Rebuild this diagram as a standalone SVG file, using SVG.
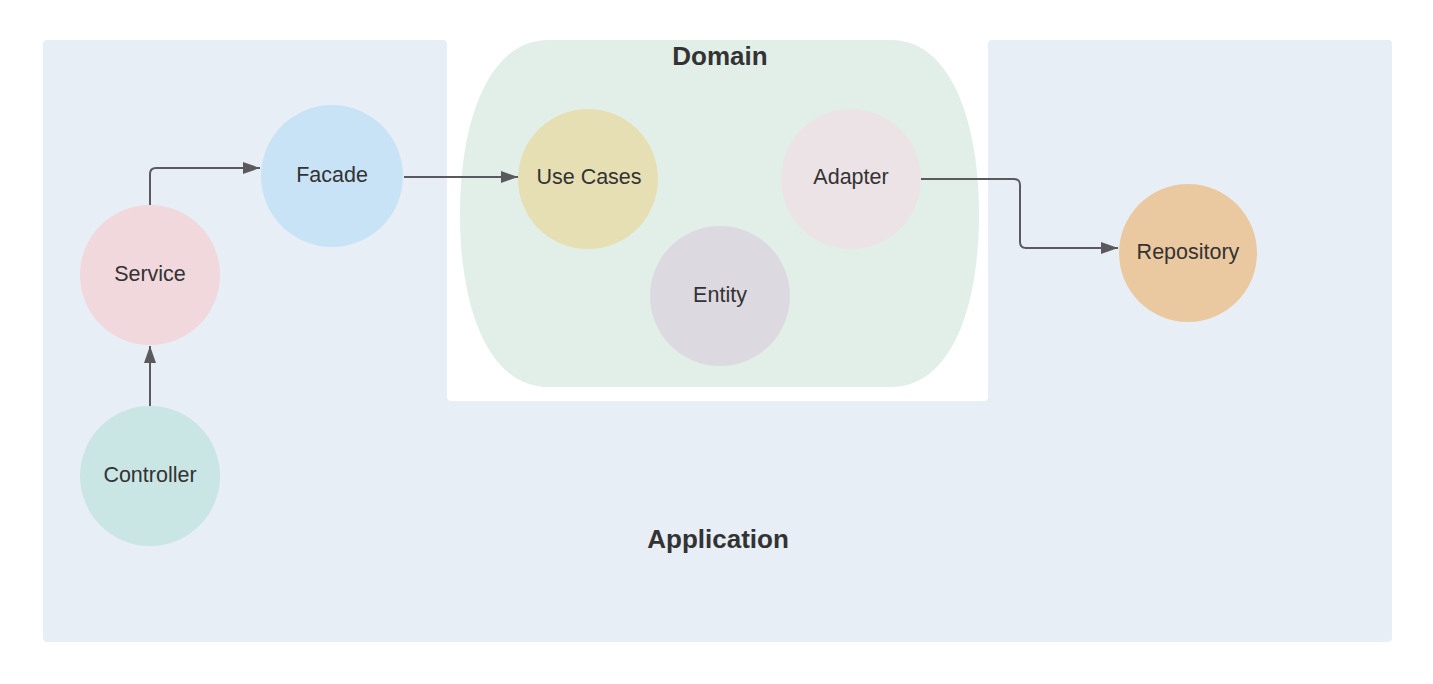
<svg xmlns="http://www.w3.org/2000/svg" width="1433" height="684" viewBox="0 0 1433 684">
<defs>
<style>
.lbl{font-family:"Liberation Sans",Arial,sans-serif;font-size:21.5px;fill:#333333;text-anchor:middle}
.ttl{font-family:"Liberation Sans",Arial,sans-serif;font-size:26px;font-weight:bold;fill:#333333;text-anchor:middle}
.edge{fill:none;stroke:#5A5A5E;stroke-width:2;stroke-linejoin:round}
</style>
<marker id="arr" viewBox="0 0 17 12" refX="17" refY="6" markerWidth="17" markerHeight="12" markerUnits="userSpaceOnUse" orient="auto">
<path d="M0,0 L17,6 L0,12 Z" fill="#5A5A5E"/>
</marker>
</defs>
<rect width="1433" height="684" fill="#ffffff"/>
<g id="application">
<path d="M47,40 H443 Q447,40 447,44 V397 Q447,401 451,401 H984 Q988,401 988,397 V44 Q988,40 992,40 H1388 Q1392,40 1392,44 V638 Q1392,642 1388,642 H47 Q43,642 43,638 V44 Q43,40 47,40 Z" fill="#E8EEF6"/>
<text class="ttl" x="718" y="548">Application</text>
</g>
<g id="domain">
<path d="M548,40 H891 C950,40 979,120 979,214 C979,310 950,387 891,387 H548 C489,387 460,310 460,214 C460,120 489,40 548,40 Z" fill="#E2EFE8"/>
<text class="ttl" x="720" y="65">Domain</text>
</g>
<g id="connectors">
<path class="edge" d="M150,208 V174 Q150,168 156,168 H260" marker-end="url(#arr)"/>
<path class="edge" d="M150,408 V346" marker-end="url(#arr)"/>
<path class="edge" d="M404,177 H518" marker-end="url(#arr)"/>
<path class="edge" d="M921,179 H1014 Q1020,179 1020,185 V242 Q1020,248 1026,248 H1118" marker-end="url(#arr)"/>
</g>
<g id="service"><circle cx="150" cy="275" r="70" fill="#F0D8DC"/><text class="lbl" x="150" y="281">Service</text></g>
<g id="facade"><circle cx="332" cy="176" r="71" fill="#C9E3F6"/><text class="lbl" x="332" y="182">Facade</text></g>
<g id="controller"><circle cx="150" cy="476" r="70" fill="#C9E5E4"/><text class="lbl" x="150" y="482">Controller</text></g>
<g id="usecases"><circle cx="588" cy="179" r="70" fill="#E6DFB3"/><text class="lbl" x="589" y="184">Use Cases</text></g>
<g id="adapter"><circle cx="851" cy="179" r="70" fill="#ECE3E6"/><text class="lbl" x="851" y="184">Adapter</text></g>
<g id="entity"><circle cx="720" cy="296" r="70" fill="#DCDAE0"/><text class="lbl" x="720" y="302">Entity</text></g>
<g id="repository"><circle cx="1188" cy="253" r="69" fill="#EBC9A0"/><text class="lbl" x="1188" y="259">Repository</text></g>
</svg>
